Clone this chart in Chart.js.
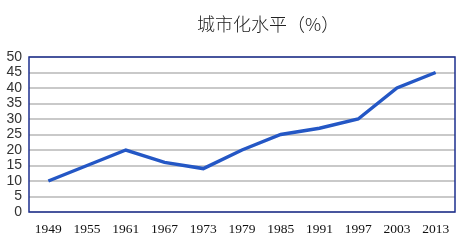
<!DOCTYPE html>
<html>
<head>
<meta charset="utf-8">
<script src="https://cdn.jsdelivr.net/npm/chart.js@4"></script>
<style>
  html, body { margin: 0; padding: 0; background: #fff; }
  #wrap { position: relative; width: 466px; height: 248px; }
  #title {
    position: absolute; left: 197px; top: 12px;
    font-family: "Noto Sans CJK SC", sans-serif; font-size: 18px; line-height: 22px;
    color: #222; white-space: nowrap; font-weight: 300;
  }
</style>
</head>
<body>
<div id="wrap">
  <canvas id="chart" width="466" height="248"></canvas>
  <div id="title">城市化水平（%）</div>
</div>
<script>
const years = ['1949', '1955', '1961', '1967', '1973', '1979', '1985', '1991', '1997', '2003', '2013'];
const urbanRate = [10, 15, 20, 16, 14, 20, 25, 27, 30, 40, 45];
const yTicks = [0, 5, 10, 15, 20, 25, 30, 35, 40, 45, 50];

// frame around the plot area
const plotFrame = {
    id: 'plotFrame',
    beforeDatasetsDraw(chart) {
        const { ctx, chartArea: a } = chart;
        ctx.save();
        ctx.strokeStyle = '#1c2f8f';
        ctx.lineWidth = 1.5;
        ctx.strokeRect(a.left, a.top, a.right - a.left, a.bottom - a.top);
        ctx.restore();
    }
};

const ctx = document.getElementById('chart').getContext('2d');
new Chart(ctx, {
    type: 'line',
    data: {
        labels: years,
        datasets: [{
            data: urbanRate,
            borderColor: '#2457c5',
            borderWidth: 3.5,
            pointRadius: 0,
            tension: 0,
            fill: false
        }]
    },
    options: {
        responsive: false,
        animation: false,
        layout: { padding: { top: 57, right: 11, left: 0, bottom: 0 } },
        plugins: {
            legend: { display: false },
            title: { display: false },
            tooltip: { enabled: false }
        },
        scales: {
            x: {
                offset: true,
                grid: { display: false, drawTicks: false },
                border: { display: false },
                ticks: {
                    color: '#111',
                    font: { family: '"Liberation Serif", "Times New Roman", serif', size: 13.5 },
                    padding: 9,
                    maxRotation: 0,
                    autoSkip: false
                },
                afterFit: s => { s.height = 36; }
            },
            y: {
                min: 0,
                max: 50,
                afterBuildTicks: s => { s.ticks = yTicks.map(v => ({ value: v })); },
                grid: { color: '#c9c9c9', lineWidth: 2, drawTicks: false },
                border: { display: false },
                ticks: {
                    color: '#333',
                    font: { family: '"Liberation Sans", Arial, sans-serif', size: 14 },
                    padding: 7,
                    autoSkip: false
                },
                afterFit: s => { s.width = 29; }
            }
        }
    },
    plugins: [plotFrame]
});
</script>
</body>
</html>
